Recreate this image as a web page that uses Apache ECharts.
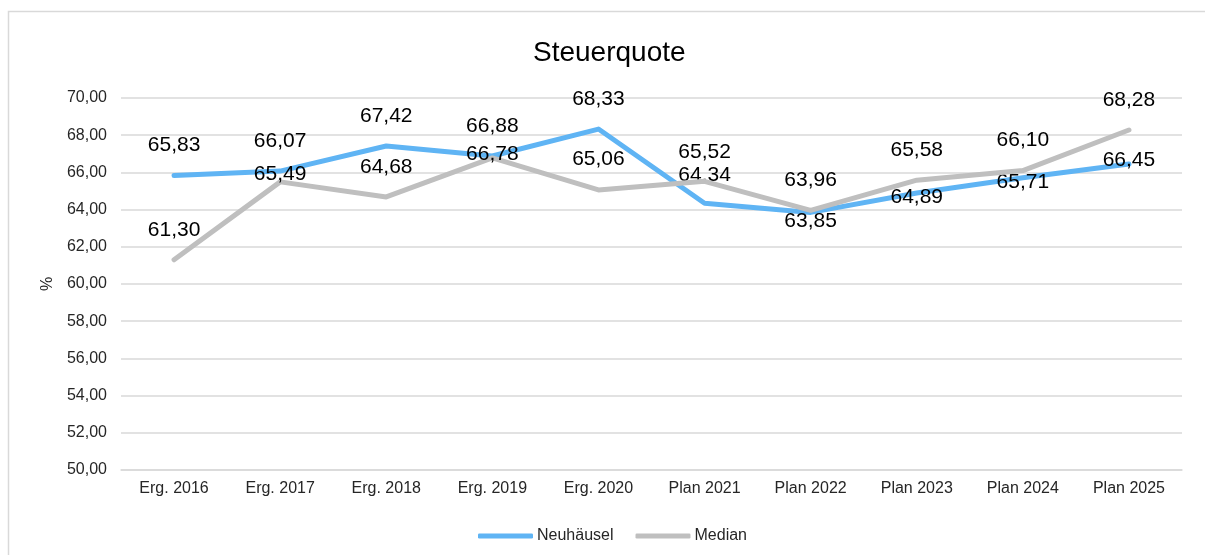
<!DOCTYPE html>
<html>
<head>
<meta charset="utf-8">
<script src="https://cdn.jsdelivr.net/npm/echarts@6/dist/echarts.min.js"></script>
<style>
html,body{margin:0;padding:0;background:#fff;}
#chart{width:1205px;height:555px;}
</style>
</head>
<body>
<div id="chart"></div>
<script>
const categories = ['Erg. 2016','Erg. 2017','Erg. 2018','Erg. 2019','Erg. 2020','Plan 2021','Plan 2022','Plan 2023','Plan 2024','Plan 2025'];
const neuhaeusel = [65.83, 66.07, 67.42, 66.88, 68.33, 64.34, 63.85, 64.89, 65.71, 66.45];
const median = [61.30, 65.49, 64.68, 66.78, 65.06, 65.52, 63.96, 65.58, 66.10, 68.28];
const yTicks = {min: 50, max: 70, interval: 2};

// label vertical shift (px, centre of label relative to point)
const labelDyBlue = [-30, -30, -30, -30, -30, -28, 9, 4, 4, -4];
const labelDyGray = [-30, -8, -30, -4, -31, -29, -30, -30, -30, -30];

const FONT = "'Liberation Sans', Arial, sans-serif";
const fmt = v => v.toFixed(2).replace('.', ',');

const chart = echarts.init(document.getElementById('chart'), null, {renderer: 'canvas'});
chart.setOption({
  animation: false,
  backgroundColor: '#fff',
  graphic: [{
    type: 'rect',
    shape: {x: 8.5, y: 11.5, width: 1300, height: 700},
    style: {fill: 'none', stroke: '#d9d9d9', lineWidth: 1.5},
    silent: true
  }],
  title: {
    text: 'Steuerquote',
    left: 528,
    top: 34,
    textStyle: {fontFamily: FONT, fontSize: 28, fontWeight: 'normal', color: '#000'}
  },
  legend: {
    left: 473,
    top: 523,
    icon: 'roundRect',
    itemWidth: 55,
    itemHeight: 5,
    itemGap: 22,
    textStyle: {fontFamily: FONT, fontSize: 16, color: '#262626', padding: [0, 0, 0, -1]},
    data: ['Neuhäusel', 'Median']
  },
  grid: {left: 121, right: 23, top: 98, bottom: 85, containLabel: false},
  xAxis: {
    type: 'category',
    data: categories,
    boundaryGap: true,
    axisLine: {show: true, lineStyle: {color: '#d9d9d9', width: 1.5}},
    axisTick: {show: false},
    axisLabel: {fontFamily: FONT, fontSize: 16, color: '#262626', margin: 11}
  },
  yAxis: {
    type: 'value',
    min: yTicks.min,
    max: yTicks.max,
    interval: yTicks.interval,
    name: '%',
    nameLocation: 'middle',
    nameGap: 63,
    nameTextStyle: {fontFamily: FONT, fontSize: 16, color: '#262626'},
    axisLine: {show: false},
    axisTick: {show: false},
    splitLine: {lineStyle: {color: '#d9d9d9', width: 1.5}},
    axisLabel: {fontFamily: FONT, fontSize: 16, color: '#262626', margin: 14, formatter: fmt}
  },
  series: [
    {
      name: 'Neuhäusel',
      type: 'line',
      data: neuhaeusel,
      symbol: 'circle',
      symbolSize: 1,
      showSymbol: true,
      color: '#5FB4F4',
      itemStyle: {color: '#5FB4F4'},
      lineStyle: {width: 5, color: '#5FB4F4', cap: 'round', join: 'round'},
      label: {show: true, position: 'inside', fontFamily: FONT, fontSize: 21, color: '#000', formatter: p => fmt(p.value)},
      labelLayout: p => ({dy: labelDyBlue[p.dataIndex], hideOverlap: false}),
      z: 2
    },
    {
      name: 'Median',
      type: 'line',
      data: median,
      symbol: 'circle',
      symbolSize: 1,
      showSymbol: true,
      color: '#BFBFBF',
      itemStyle: {color: '#BFBFBF'},
      lineStyle: {width: 5, color: '#BFBFBF', cap: 'round', join: 'round'},
      label: {show: true, position: 'inside', fontFamily: FONT, fontSize: 21, color: '#000', formatter: p => fmt(p.value)},
      labelLayout: p => ({dy: labelDyGray[p.dataIndex], hideOverlap: false}),
      z: 3
    }
  ]
});
</script>
</body>
</html>
